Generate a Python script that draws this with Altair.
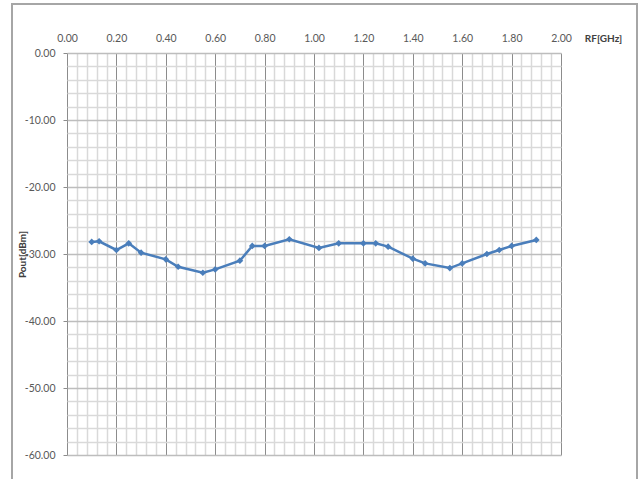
import altair as alt
import pandas as pd

# Measured output power versus RF frequency
freq_ghz = [0.10, 0.13, 0.20, 0.25, 0.30, 0.40, 0.45, 0.55, 0.60, 0.70, 0.75,
            0.80, 0.90, 1.02, 1.10, 1.20, 1.25, 1.30, 1.40, 1.45, 1.55, 1.60,
            1.70, 1.75, 1.80, 1.90]
pout_dbm = [-28.2, -28.1, -29.4, -28.4, -29.8, -30.8, -31.9, -32.8, -32.3, -31.0, -28.8,
            -28.8, -27.8, -29.1, -28.4, -28.4, -28.4, -28.9, -30.7, -31.4, -32.1, -31.4,
            -30.0, -29.4, -28.8, -27.9]

x_grid = [round(i * 0.04, 2) for i in range(51)]
y_grid = [-60 + 2 * i for i in range(31)]

df = pd.DataFrame({"freq": freq_ghz, "pout": pout_dbm})

FONT = "Lato"
MINOR = "#d9d9d9"
X_MAJOR = "#8c8c8c"
Y_MAJOR = "#bdbdbd"

x_major_test = "abs(datum.value * 5 - round(datum.value * 5)) < 0.001"
y_major_test = "abs(datum.value / 10 - round(datum.value / 10)) < 0.001"


def label_expr(test):
    # hyphen-minus rather than the typographic minus sign
    return (f"({test}) ? ((datum.value < 0 ? '-' : '') + "
            f"format(abs(datum.value), '.2f')) : ''")


x_enc = alt.X(
    "freq:Q",
    scale=alt.Scale(domain=[0, 2], nice=False, zero=False),
    axis=alt.Axis(
        orient="top",
        values=x_grid,
        labelExpr=label_expr(x_major_test),
        labelFlush=False,
        grid=True,
        gridColor={"condition": {"test": x_major_test, "value": X_MAJOR}, "value": MINOR},
        gridWidth={"condition": {"test": x_major_test, "value": 1}, "value": 1.5},
        ticks=False,
        domain=False,
        labelFont=FONT,
        labelFontSize=10.5,
        labelColor="#595959",
        labelPadding=10,
        title="RF[GHz]",
        titleFont=FONT,
        titleFontSize=10,
        titleFontWeight="bold",
        titleColor="#404040",
        titleX=536,
        titleY=-15,
        titleAlign="center",
        titleBaseline="middle",
        labelOverlap=False,
    ),
)

y_enc = alt.Y(
    "pout:Q",
    scale=alt.Scale(domain=[-60, 0], nice=False, zero=False),
    axis=alt.Axis(
        values=y_grid,
        labelExpr=label_expr(y_major_test),
        labelFlush=False,
        grid=True,
        gridColor={"condition": {"test": y_major_test, "value": Y_MAJOR}, "value": MINOR},
        gridWidth=1.5,
        ticks=True,
        tickSize=4,
        tickColor={"condition": {"test": y_major_test, "value": X_MAJOR}, "value": "transparent"},
        domain=False,
        labelFont=FONT,
        labelFontSize=10.5,
        labelColor="#595959",
        labelPadding=8,
        title="Pout[dBm]",
        titleFont=FONT,
        titleFontSize=10,
        titleFontWeight="bold",
        titleColor="#404040",
        titleX=-45,
        titleBaseline="middle",
        labelOverlap=False,
    ),
)

frame = alt.Chart(pd.DataFrame({"k": [0]})).mark_rect(
    fill="transparent", stroke="#a6a6a6", strokeWidth=2, clip=False
).encode(
    x=alt.value(-55), x2=alt.value(570), y=alt.value(-49), y2=alt.value(440)
)

line = alt.Chart(df).mark_line(
    color="#4a7ebb", strokeWidth=2.5,
    point=alt.OverlayMarkDef(shape="diamond", filled=True, size=45, color="#4a7ebb"),
).encode(x=x_enc, y=y_enc)

chart = alt.layer(line, frame).properties(
    width=494,
    height=402,
    padding={"left": 67, "top": 53, "right": 78, "bottom": 24},
    autosize=alt.AutoSizeParams(type="none"),
    background="white",
).configure_view(stroke=None)

chart.save("out.html", embed_options={"renderer": "svg", "actions": False})
